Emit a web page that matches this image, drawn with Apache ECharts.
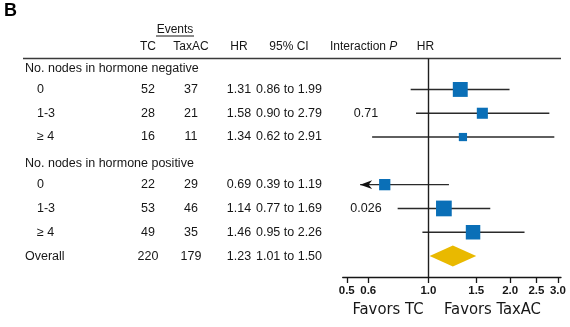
<!DOCTYPE html>
<html>
<head>
<meta charset="utf-8">
<script src="https://cdn.jsdelivr.net/npm/echarts@6/dist/echarts.min.js"></script>
<style>
  html, body { margin: 0; padding: 0; background: #fff; }
  #chart { width: 570px; height: 327px; }
</style>
</head>
<body>
<div id="chart"></div>
<script>
// Subgroup rows, top to bottom
const rowLabels = ['No. nodes in hormone negative', '0', '1-3', '\u2265 4',
                   'No. nodes in hormone positive', '0', '1-3', '\u2265 4', 'Overall'];
const rowKinds = ['group', 'sub', 'sub', 'sub', 'group', 'sub', 'sub', 'sub', 'total'];
const eventsTC = [null, 52, 28, 16, null, 22, 53, 49, 220];
const eventsTaxAC = [null, 37, 21, 11, null, 29, 46, 35, 179];
const hazardRatio = [null, 1.31, 1.58, 1.34, null, 0.69, 1.14, 1.46, 1.23];
const ciLow = [null, 0.86, 0.90, 0.62, null, 0.39, 0.77, 0.95, 1.01];
const ciHigh = [null, 1.99, 2.79, 2.91, null, 1.19, 1.69, 2.26, 1.50];
const interactionP = [null, null, '0.71', null, null, null, '0.026', null, null];
const axisTickValues = [0.5, 0.6, 1.0, 1.5, 2.0, 2.5, 3.0];

// CI lines reaching below this value are cut short and end in an arrow
const arrowFloor = 0.56;

const FONT = '"Liberation Sans", Arial, Helvetica, sans-serif';
const NARROW = '"Liberation Sans Narrow", "Arial Narrow", "DejaVu Sans Condensed", sans-serif';
const INK = '#161616';

const subRows = [];
const totalRows = [];
rowKinds.forEach((kind, i) => {
  if (kind === 'sub') subRows.push(i);
  if (kind === 'total') totalRows.push(i);
});

const ciData = subRows.map(i => [i, ciLow[i], ciHigh[i]]);
const squareData = subRows.map(i => [hazardRatio[i], i, eventsTC[i] + eventsTaxAC[i]]);
const diamondData = totalRows.map(i => [i, hazardRatio[i], ciLow[i], ciHigh[i]]);

const chart = echarts.init(document.getElementById('chart'), null, { renderer: 'canvas' });

const option = {
  backgroundColor: '#fff',
  animation: false,
  grid: { left: 342.7, right: 9, top: 58.5, bottom: 50, containLabel: false, outerBoundsMode: 'none' },
  xAxis: {
    type: 'log',
    logBase: 10,
    min: 0.483,
    max: 3.08,
    splitLine: { show: false },
    minorTick: { show: false },
    axisLine: { show: true, onZero: false, lineStyle: { color: INK, width: 1.3 } },
    axisTick: { show: true, length: 6, customValues: axisTickValues, lineStyle: { color: INK, width: 1.3 } },
    axisLabel: {
      customValues: axisTickValues,
      formatter: v => Number(v).toFixed(1),
      fontFamily: FONT, fontSize: 11.5, fontWeight: 'bold', color: INK, margin: 8
    }
  },
  yAxis: {
    type: 'value',
    inverse: true,
    min: -0.3,
    max: 8.88,
    show: false,
    splitLine: { show: false }
  },
  series: [
    {
      // confidence-interval whiskers
      type: 'custom',
      coordinateSystem: 'cartesian2d',
      encode: { x: [1, 2], y: 0 },
      data: ciData,
      z: 2,
      renderItem(params, api) {
        const row = api.value(0);
        const lo = api.value(1);
        const hi = api.value(2);
        const clipped = lo < arrowFloor;
        const p0 = api.coord([clipped ? arrowFloor : lo, row]);
        const p1 = api.coord([hi, row]);
        const children = [{
          type: 'line',
          shape: { x1: p0[0], y1: p0[1], x2: p1[0], y2: p1[1] },
          style: { stroke: '#2a2a2a', lineWidth: 1.4 }
        }];
        if (clipped) {
          const x = p0[0], y = p0[1];
          children.push({
            type: 'polygon',
            shape: { points: [[x, y], [x + 12, y - 4.3], [x + 8.5, y], [x + 12, y + 4.3]] },
            style: { fill: '#111' }
          });
        }
        return { type: 'group', children };
      },
      markLine: {
        silent: true,
        symbol: 'none',
        label: { show: false },
        lineStyle: { color: '#1e1e1e', width: 1.4, type: 'solid' },
        data: [{ xAxis: 1 }]
      }
    },
    {
      // point estimates, sized by total events
      type: 'scatter',
      data: squareData,
      symbol: 'rect',
      symbolSize: v => 1.58 * Math.sqrt(v[2]),
      itemStyle: { color: '#0a6fb7', opacity: 1 },
      z: 3
    },
    {
      // overall estimate diamond
      type: 'custom',
      coordinateSystem: 'cartesian2d',
      encode: { x: [1, 2, 3], y: 0 },
      data: diamondData,
      z: 3,
      renderItem(params, api) {
        const row = api.value(0);
        const pc = api.coord([api.value(1), row]);
        const pl = api.coord([api.value(2), row]);
        const pr = api.coord([api.value(3), row]);
        const h = 10.5;
        return {
          type: 'polygon',
          shape: { points: [[pl[0], pl[1]], [pc[0], pc[1] - h], [pr[0], pr[1]], [pc[0], pc[1] + h]] },
          style: { fill: '#e9b900' }
        };
      }
    }
  ]
};

chart.setOption(option);

// Table text beside the plot, aligned with the rows of the y axis
function txt(text, x, y, opts) {
  return {
    type: 'text',
    x, y,
    silent: true,
    style: Object.assign({
      text,
      fontFamily: FONT,
      fontSize: 12.5,
      fill: INK,
      align: 'left',
      verticalAlign: 'middle'
    }, opts || {})
  };
}

const cols = { label: 25, sub: 37, tc: 148, taxac: 191, hr: 239, ci: 289, p: 366 };
const graphics = [];

graphics.push(txt('B', 4, 11, { fontSize: 18, fontWeight: 'bold', fill: '#000' }));
graphics.push(txt('Events', 175, 30, { align: 'center', fontSize: 12 }));
graphics.push({
  type: 'line', silent: true,
  shape: { x1: 156, y1: 36, x2: 194, y2: 36 },
  style: { stroke: INK, lineWidth: 1 }
});
const headY = 46.5;
graphics.push(txt('TC', cols.tc, headY, { align: 'center', fontSize: 12 }));
graphics.push(txt('TaxAC', cols.taxac, headY, { align: 'center', fontSize: 12 }));
graphics.push(txt('HR', cols.hr, headY, { align: 'center', fontSize: 12 }));
graphics.push(txt('95% CI', cols.ci, headY, { align: 'center', fontSize: 12 }));
graphics.push({
  type: 'text', x: 330, y: headY, silent: true,
  style: {
    text: '{a|Interaction }{b|P}',
    align: 'left', verticalAlign: 'middle',
    rich: {
      a: { fontFamily: FONT, fontSize: 12, fill: INK },
      b: { fontFamily: FONT, fontSize: 12, fill: INK, fontStyle: 'italic' }
    }
  }
});
graphics.push(txt('HR', 425.5, headY, { align: 'center', fontSize: 12 }));
graphics.push({
  type: 'line', silent: true,
  shape: { x1: 23, y1: 58.5, x2: 561, y2: 58.5 },
  style: { stroke: '#3a3a3a', lineWidth: 1.6 }
});

rowLabels.forEach((label, i) => {
  const kind = rowKinds[i];
  // group headings sit a little below their nominal row line
  const y = chart.convertToPixel({ yAxisIndex: 0 }, i) + (kind === 'group' ? 3 : 0);
  graphics.push(txt(label, kind === 'sub' ? cols.sub : cols.label, y));
  if (kind === 'group') return;
  graphics.push(txt(String(eventsTC[i]), cols.tc, y, { align: 'center' }));
  graphics.push(txt(String(eventsTaxAC[i]), cols.taxac, y, { align: 'center' }));
  graphics.push(txt(hazardRatio[i].toFixed(2), cols.hr, y, { align: 'center' }));
  graphics.push(txt(ciLow[i].toFixed(2) + ' to ' + ciHigh[i].toFixed(2), cols.ci, y, { align: 'center' }));
  if (interactionP[i]) {
    graphics.push(txt(interactionP[i], cols.p, y, { align: 'center' }));
  }
});

graphics.push(txt('Favors TC', 388, 310, { align: 'center', fontFamily: NARROW, fontSize: 16.5 }));
graphics.push(txt('Favors TaxAC', 492.5, 310, { align: 'center', fontFamily: NARROW, fontSize: 16.5 }));

chart.setOption({ graphic: graphics });
</script>
</body>
</html>
